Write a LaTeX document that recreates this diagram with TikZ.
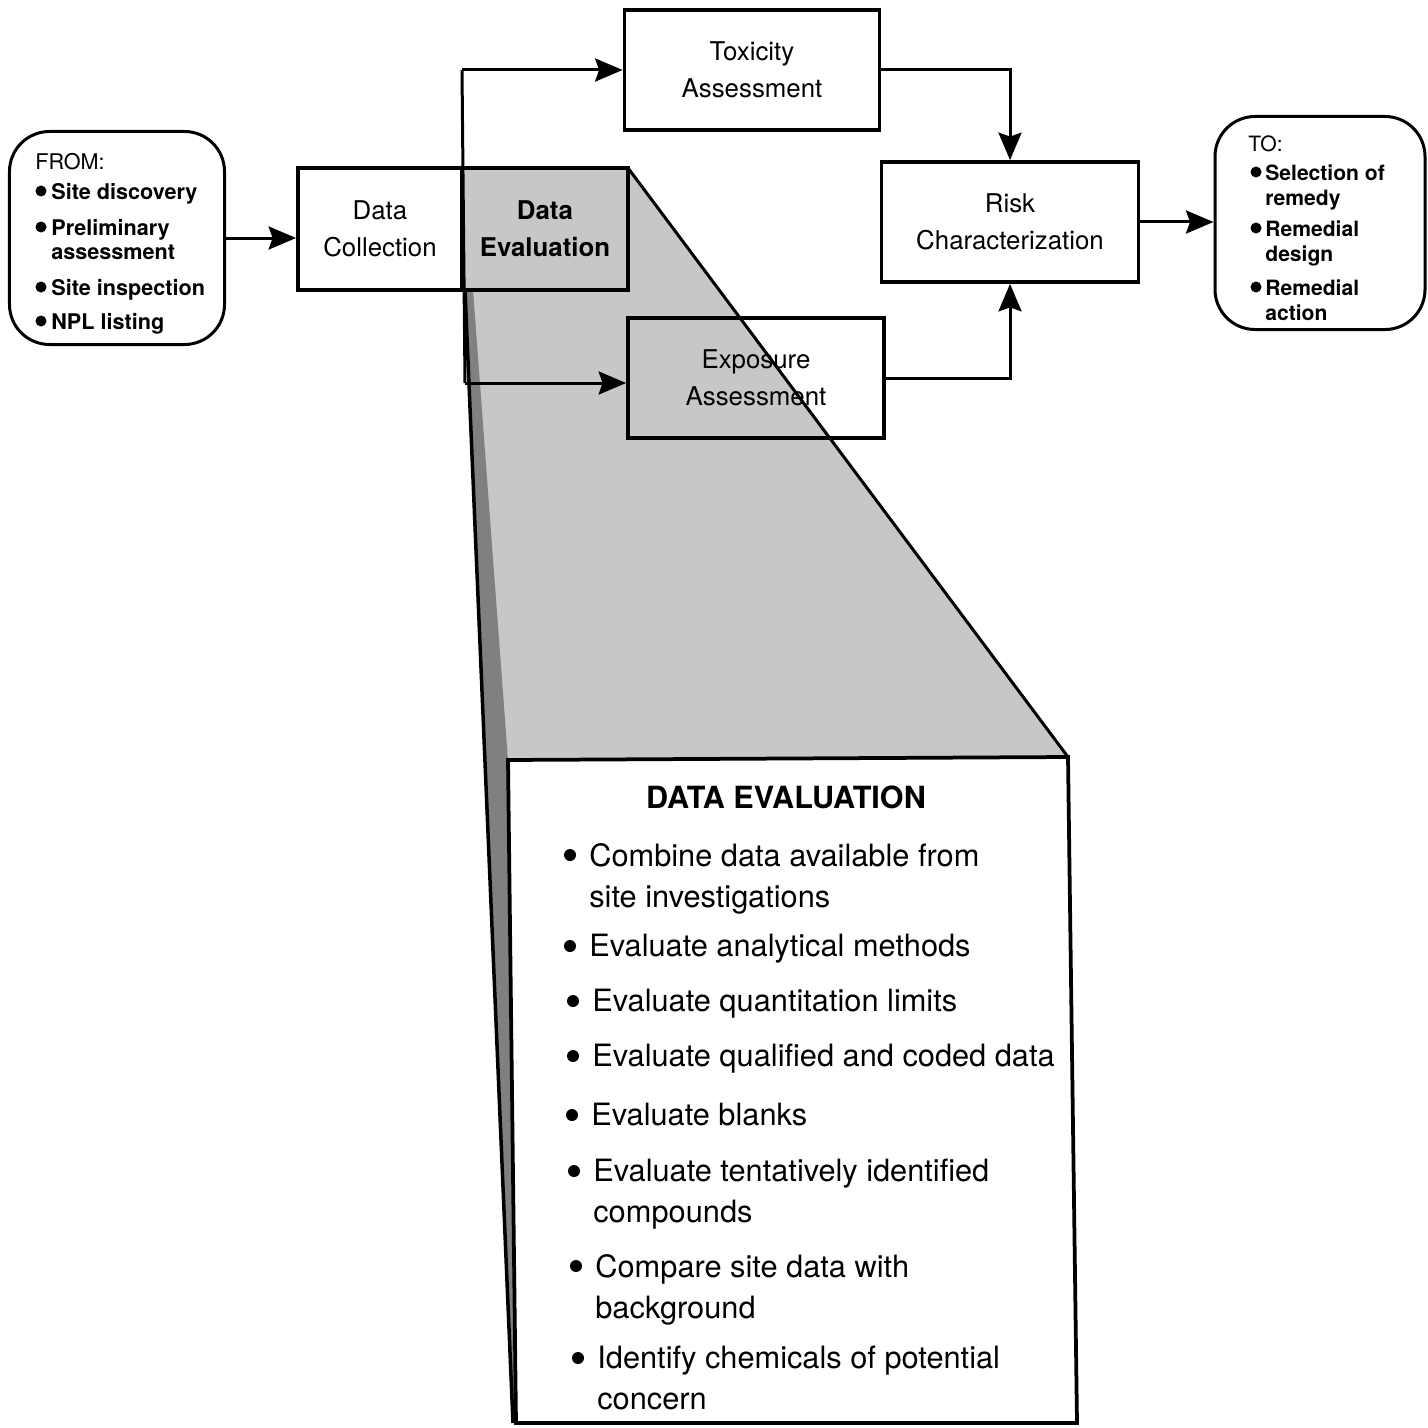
\documentclass[tikz,border=0pt]{standalone}
\usepackage{fontspec}
\setmainfont{TeX Gyre Heros}
\usepackage{tikz}
\usetikzlibrary{arrows.meta}

\begin{document}
\begin{tikzpicture}[x=0.2mm, y=-0.2mm,
    stage/.style={draw, line width=0.75mm, minimum height=24mm, align=center, inner sep=0pt, font=\fontsize{14.7}{21}\selectfont},
    endbox/.style={draw, line width=0.6mm, rounded corners=8mm, minimum width=42mm, minimum height=42.6mm, inner sep=0pt},
    flow/.style={line width=0.6mm, -{Stealth[length=5.5mm, width=4.6mm, inset=0.8mm]}},
    blob/.style={circle, fill, inner sep=0pt, minimum size=2.2mm},
    sideline/.style={font=\fontsize{12.3}{13.7}\selectfont\bfseries, align=left, inner sep=0pt},
    evalline/.style={font=\fontsize{17.5}{23.3}\selectfont, align=left, inner sep=0pt}]
    \useasboundingbox (0,0) rectangle (1428,1428);
    \fill[white] (0,0) rectangle (1428,1428);
    % zoomed shade
    \fill[black!22] (462,168) -- (628,168) -- (1068,757) -- (508,760) -- (465,290) -- cycle;
    \fill[black!50] (465,290) -- (473,290) -- (508,760) -- (516,1423) -- (513,1423) -- cycle;
    \draw[line width=0.7mm] (465,290) -- (513,1423);
    \draw[line width=0.6mm] (628,168) -- (1068,757);
    \draw[line width=0.75mm, fill=white] (508,760) -- (1068,757) -- (1077,1423) -- (516,1423) -- cycle;

    \node[stage, fill=white, minimum width=32.8mm, minimum height=24.4mm] (collect) at (380,229) {Data\\Collection};
    \node[stage, minimum width=33.2mm, minimum height=24.4mm, font=\fontsize{14.7}{21}\selectfont\bfseries] (evaluate) at (545,229) {Data\\Evaluation};
    \node[stage, fill=white, minimum width=51mm] (toxicity) at (752,70) {Toxicity\\Assessment};
    \node[stage, fill=white, minimum width=51.4mm] (risk) at (1010,222) {Risk\\Characterization};
    \node[stage, minimum width=51.2mm] (exposure) at (756,378) {Exposure\\Assessment};

    \node[endbox, minimum width=43mm] (fromsite) at (117,238) {};
    \node[sideline, anchor=north west, font=\fontsize{12.3}{13.7}\selectfont] (fromhead) at (35,153) {FROM:};
    \foreach \n/\y/\txt in {1/191/{Site discovery}, 2/227/{Preliminary\\assessment},
        3/287/{Site inspection}, 4/321/{NPL listing}} {
      \node[blob] (fromdot\n) at (41,\y) {};
      \node[sideline, anchor=north west] (fromitem\n) at (51,\y-8) {\txt};
    }
    \node[endbox] (toremedy) at (1320,223) {};
    \node[sideline, anchor=north west, font=\fontsize{12}{14.5}\selectfont] (tohead) at (1248,135) {TO:};
    \foreach \n/\y/\txt in {1/172/{Selection of\\remedy}, 2/228/{Remedial\\design}, 3/287/{Remedial\\action}} {
      \node[blob] (todot\n) at (1256,\y) {};
      \node[sideline, anchor=north west, font=\fontsize{12}{14.5}\selectfont\bfseries] (toitem\n) at (1265,\y-8) {\txt};
    }

    \coordinate (splittop) at (462,70);
    \coordinate (splitbot) at (465,383);
    \draw[line width=0.6mm] (splittop) -- (splitbot);
    \draw[flow] (fromsite.east) -- (fromsite.east -| collect.west);
    \draw[flow] (splittop) -- (toxicity.west);
    \draw[flow] (splitbot) -- (splitbot -| exposure.west);
    \draw[flow] (toxicity.east) -| (risk.north);
    \draw[flow] (exposure.east) -| (risk.south);
    \draw[flow] (risk.east) -- (risk.east -| toremedy.west);

    \node[font=\fontsize{17.4}{20}\selectfont\bfseries, inner sep=0pt] (evaltitle) at (786,797) {DATA EVALUATION};
    \foreach \n/\x/\y/\txt in {1/589/855/{Combine data available from\\site investigations},
        2/589/946/{Evaluate analytical methods}, 3/592/1001/{Evaluate quantitation limits},
        4/592/1056/{Evaluate qualified and coded data}, 5/591/1115/{Evaluate blanks},
        6/593/1171/{Evaluate tentatively identified\\compounds}, 7/595/1266/{Compare site data with\\background},
        8/597/1358/{Identify chemicals of potential\\concern}} {
      \node[blob, minimum size=2.4mm] (dot\n) at (\x-19,\y) {};
      \node[evalline, anchor=north west] (item\n) at (\x,\y-12) {\txt};
    }
  \end{tikzpicture}
\end{document}
